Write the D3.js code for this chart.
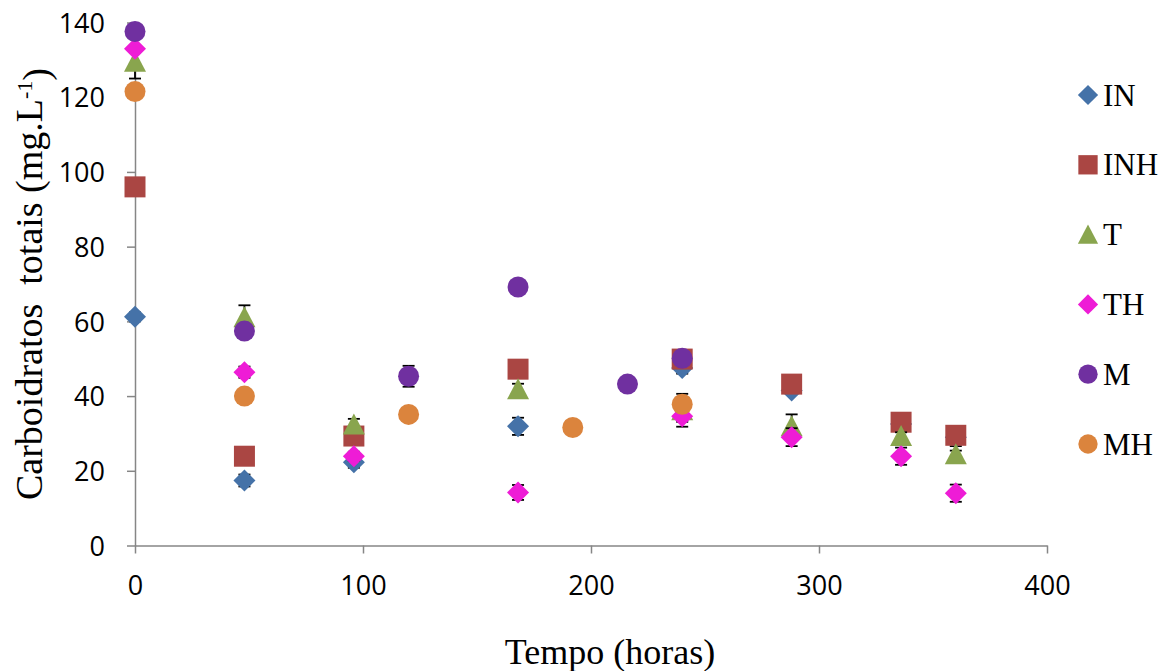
<!DOCTYPE html>
<html>
<head>
<meta charset="utf-8">
<script src="https://cdn.jsdelivr.net/npm/d3@7"></script>
<style>
  html, body { margin: 0; padding: 0; background: #fff; }
  svg { display: block; }
</style>
</head>
<body>
<svg id="chart" width="1170" height="671"></svg>
<script>
// Sampling times (hours) and total carbohydrate (mg/L) per treatment, with error bar half-widths
const seriesNames = ["IN", "INH", "T", "TH", "M", "MH"];

const timesIN  = [0, 48, 96, 168, 240, 288, 336, 360];
const valuesIN = [61.2, 17.4, 22.3, 31.9, 47.5, 41.5, 32.5, 29.0];
const errIN    = [1.2, 1.6, 1.5, 2.3, 1.5, 1.0, 1.0, 2.4];

const timesINH  = [0, 48, 96, 168, 240, 288, 336, 360];
const valuesINH = [96.0, 23.9, 29.3, 47.2, 49.9, 43.2, 33.0, 29.5];
const errINH    = [1.5, 0.8, 1.0, 1.0, 1.0, 1.0, 1.0, 1.0];

const timesT  = [0, 48, 96, 168, 240, 288, 336, 360];
const valuesT = [129.5, 61.1, 32.4, 41.8, 36.2, 31.9, 29.3, 24.4];
const errT    = [4.5, 3.2, 1.5, 1.5, 4.4, 3.2, 1.0, 1.0];

const timesTH  = [0, 48, 96, 168, 240, 288, 336, 360];
const valuesTH = [133.0, 46.4, 23.9, 14.2, 34.6, 29.0, 23.9, 14.0];
const errTH    = [1.0, 1.5, 1.2, 2.0, 1.5, 2.4, 2.3, 2.3];

const timesM  = [0, 48, 120, 168, 216, 240];
const valuesM = [137.6, 57.4, 45.3, 69.2, 43.2, 50.1];
const errM    = [1.0, 1.0, 2.8, 0.5, 0.5, 0.5];

const timesMH  = [0, 48, 120, 192, 240];
const valuesMH = [121.5, 40.0, 35.1, 31.6, 37.8];
const errMH    = [0.5, 0.5, 0.5, 0.5, 0.5];

const xTicks = [0, 100, 200, 300, 400];
const yTicks = [0, 20, 40, 60, 80, 100, 120, 140];

const xTitle = "Tempo (horas)";
const yTitleMain = "Carboidratos\u00a0\u00a0totais (mg.L";
const yTitleSup = "-1";
const yTitleEnd = ")";

// Visual style per series
const colors  = ["#4572A8", "#AA4643", "#89A54E", "#EE1CD6", "#7030A0", "#DB843D"];
const shapes  = ["diamond", "square", "triangle", "diamond", "circle", "circle"];

const seriesData = [
  [timesIN, valuesIN, errIN],
  [timesINH, valuesINH, errINH],
  [timesT, valuesT, errT],
  [timesTH, valuesTH, errTH],
  [timesM, valuesM, errM],
  [timesMH, valuesMH, errMH]
].map(([t, v, e], i) => ({
  name: seriesNames[i],
  color: colors[i],
  shape: shapes[i],
  points: t.map((x, j) => ({ x, y: v[j], e: e[j] }))
}));

const svg = d3.select("#chart");

const x = d3.scaleLinear().domain([0, 400]).range([135, 1047]);
const y = d3.scaleLinear().domain([0, 140]).range([545.5, 22.5]);

const axisColor = "#868686";

// Axes
const gx = svg.append("g").attr("transform", `translate(0,${y(0)})`)
  .call(d3.axisBottom(x).tickValues(xTicks).tickSize(8).tickPadding(22).tickSizeOuter(0));
const gy = svg.append("g").attr("transform", `translate(${x(0)},0)`)
  .call(d3.axisLeft(y).tickValues(yTicks).tickSize(8).tickPadding(22).tickSizeOuter(0));

[gx, gy].forEach(g => {
  g.select(".domain").attr("stroke", axisColor).attr("stroke-width", 1.5);
  g.selectAll(".tick line").attr("stroke", axisColor).attr("stroke-width", 1.5);
  g.selectAll(".tick text")
    .attr("fill", "#000")
    .style("font-family", "'Open Sans', sans-serif")
    .style("font-size", "27px");
});
gy.selectAll(".tick text").attr("dy", "0.36em");
gx.selectAll(".tick text").attr("dy", "0.71em");

// Marker path generator
function markerPath(shape) {
  switch (shape) {
    case "diamond": return "M0,-11L11,0L0,11L-11,0Z";
    case "square": return "M-10.5,-10.5H10.5V10.5H-10.5Z";
    case "triangle": return "M0,-11L11,10L-11,10Z";
    default: return d3.arc()({innerRadius: 0, outerRadius: 10.5, startAngle: 0, endAngle: 2 * Math.PI});
  }
}

const plot = svg.append("g");

// Each series: error bars first, markers on top, series in order
seriesData.forEach(s => {
  const g = plot.append("g");
  const eb = g.selectAll("g.eb").data(s.points).join("g")
    .attr("stroke", "#000").attr("stroke-width", 1.8);
  eb.append("line")
    .attr("x1", d => x(d.x)).attr("x2", d => x(d.x))
    .attr("y1", d => y(d.y + d.e)).attr("y2", d => y(d.y - d.e));
  eb.append("line")
    .attr("x1", d => x(d.x) - 6).attr("x2", d => x(d.x) + 6)
    .attr("y1", d => y(d.y + d.e)).attr("y2", d => y(d.y + d.e));
  eb.append("line")
    .attr("x1", d => x(d.x) - 6).attr("x2", d => x(d.x) + 6)
    .attr("y1", d => y(d.y - d.e)).attr("y2", d => y(d.y - d.e));

  g.selectAll("path.mk").data(s.points).join("path")
    .attr("class", "mk")
    .attr("d", markerPath(s.shape))
    .attr("transform", d => `translate(${x(d.x)},${y(d.y)})`)
    .attr("fill", s.color);
});

// Legend
const legend = svg.append("g");
const legendRow = d3.scaleLinear().domain([0, 5]).range([95, 444]);
seriesData.forEach((s, i) => {
  const row = legend.append("g").attr("transform", `translate(1088,${legendRow(i)})`);
  row.append("path").attr("d", markerPath(s.shape)).attr("fill", s.color)
    .attr("transform", "scale(0.92)");
  row.append("text")
    .attr("x", 15).attr("y", 0).attr("dy", "0.34em")
    .style("font-family", "'Liberation Serif', 'Times New Roman', serif")
    .style("font-size", "31px")
    .attr("fill", "#000")
    .text(s.name);
});

// Axis titles
svg.append("text")
  .attr("x", (x(0) + x(400)) / 2 + 19).attr("y", 664)
  .attr("text-anchor", "middle")
  .style("font-family", "'Liberation Serif', 'Times New Roman', serif")
  .style("font-size", "36px")
  .text(xTitle);

const yt = svg.append("text")
  .attr("transform", "translate(42,284) rotate(-90)")
  .attr("text-anchor", "middle")
  .style("font-family", "'Liberation Serif', 'Times New Roman', serif")
  .style("font-size", "38px");
yt.append("tspan").text(yTitleMain);
yt.append("tspan").attr("dy", "-0.45em").style("font-size", "22px").text(yTitleSup);
yt.append("tspan").attr("dy", "0.45em").text(yTitleEnd);
</script>
</body>
</html>
